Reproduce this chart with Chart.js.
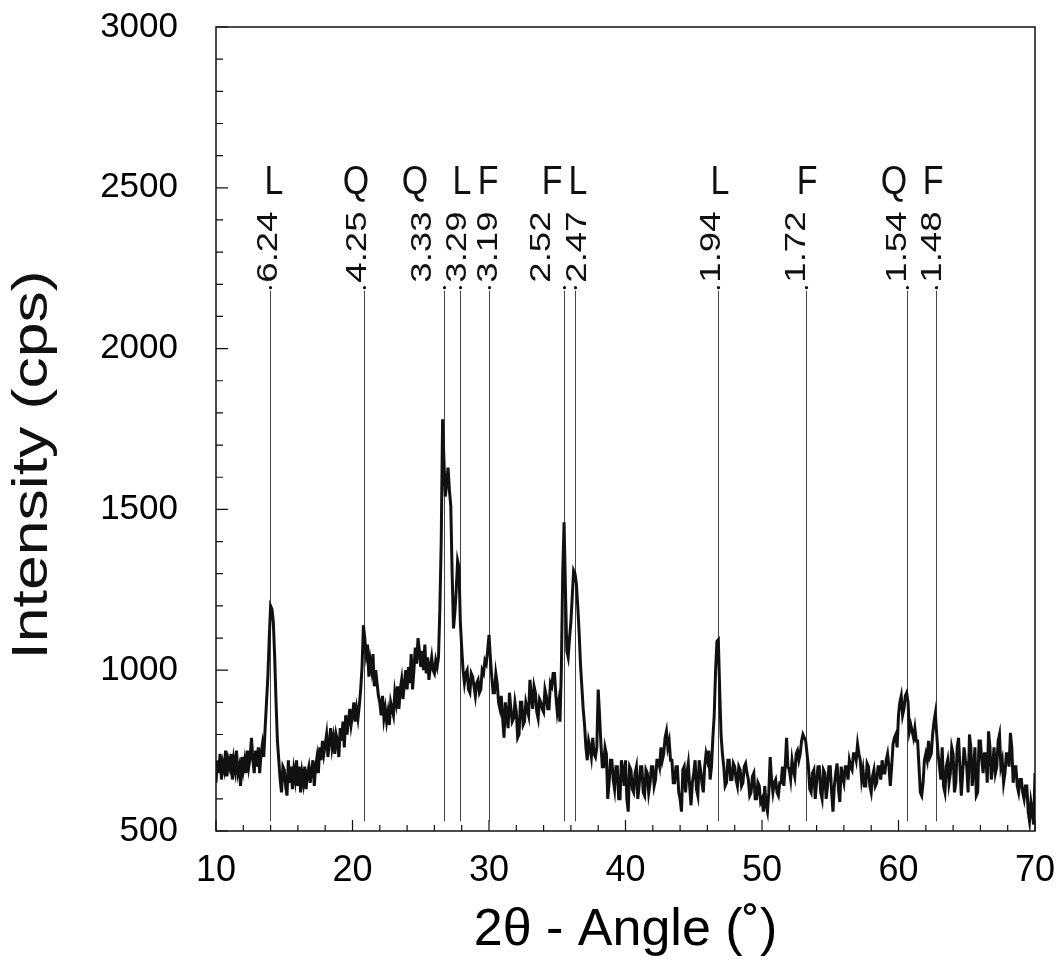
<!DOCTYPE html>
<html lang="en">
<head>
  <meta charset="UTF-8" />
  <title>XRD pattern</title>
  <script src="https://cdn.jsdelivr.net/npm/chart.js"></script>
  <style>
    body { margin: 0; background: #fff; }
    canvas { display: block; }
  </style>
</head>
<body>
  <canvas id="xrd" width="1057" height="980"></canvas>

  <script>
    // scan from 10 to 70 deg 2theta, 0.1 deg per reading (10 readings per row)
    const angleStart = 10;
    const angleStep = 0.1;
    const intensity = [
      650, 720, 680, 740, 660, 710, 690, 750, 670, 720,      // 10
      700, 740, 660, 720, 690, 750, 680, 700, 640, 730,      // 11
      690, 720, 680, 750, 700, 730, 790, 720, 680, 750,      // 12
      700, 760, 680, 740, 770, 730, 820, 900, 980, 1100,     // 13
      1200, 1190, 1150, 1040, 900, 780, 720, 660, 620, 700,  // 14
      690, 640, 610, 720, 650, 700, 630, 690, 660, 720,      // 15
      640, 700, 620, 680, 650, 700, 630, 680, 700, 650,      // 16
      690, 720, 640, 700, 730, 680, 760, 720, 780, 740,      // 17
      770, 800, 730, 780, 820, 760, 790, 740, 800, 780,      // 18
      730, 820, 780, 840, 760, 860, 800, 840, 880, 830,      // 19
      860, 900, 840, 880, 850, 890, 940, 1010, 1140, 1100,   // 20
      1050, 1080, 980, 1030, 1000, 1050, 950, 1000, 960, 920,// 21
      900, 860, 920, 850, 880, 840, 870, 830, 900, 880,      // 22
      860, 930, 900, 950, 880, 940, 970, 910, 960, 1000,     // 23
      940, 1010, 960, 1050, 940, 1000, 1070, 1020, 1100, 1060,// 24
      1010, 1060, 1000, 1080, 990, 1040, 970, 1010, 1040, 1000,// 25
      990, 1030, 1010, 1040, 1190, 1400, 1780, 1650, 1540, 1580,// 26
      1630, 1560, 1510, 1300, 1130, 1180, 1250, 1340, 1320, 1150,// 27
      1070, 1000, 960, 990, 1000, 940, 930, 990, 980, 950,   // 28
      920, 960, 970, 930, 940, 1000, 990, 1030, 1020, 1060,  // 29
      1110, 1040, 980, 930, 930, 990, 960, 900, 880, 920,    // 30
      850, 790, 900, 860, 820, 930, 880, 840, 850, 900,      // 31
      870, 790, 800, 900, 900, 830, 840, 900, 880, 860,      // 32
      970, 920, 880, 950, 930, 870, 850, 910, 900, 880,      // 33
      870, 940, 920, 880, 880, 960, 950, 990, 990, 920,      // 34
      870, 900, 840, 1000, 1300, 1460, 1250, 1060, 1040, 1100,// 35
      1150, 1230, 1310, 1300, 1270, 1200, 1120, 1020, 950, 880,// 36
      830, 760, 720, 780, 760, 730, 790, 740, 730, 760,      // 37
      940, 860, 770, 700, 700, 760, 740, 600, 650, 720,      // 38
      720, 660, 630, 700, 700, 600, 600, 720, 690, 640,      // 39
      720, 600, 560, 700, 690, 630, 620, 680, 700, 600,      // 40
      640, 700, 700, 620, 610, 690, 680, 620, 650, 700,      // 41
      700, 640, 660, 720, 720, 700, 760, 720, 740, 790,      // 42
      810, 760, 780, 720, 720, 650, 650, 700, 700, 620,      // 43
      600, 560, 690, 700, 620, 680, 710, 640, 580, 650,      // 44
      680, 720, 630, 610, 720, 690, 650, 620, 700, 740,      // 45
      720, 750, 660, 700, 790, 860, 1000, 1090, 1095, 940,   // 46
      800, 740, 700, 640, 650, 720, 720, 660, 660, 710,      // 47
      700, 660, 640, 700, 690, 640, 650, 700, 710, 680,      // 48
      660, 610, 620, 670, 680, 600, 600, 650, 640, 590,      // 49
      600, 560, 640, 580, 560, 620, 730, 660, 620, 650,      // 50
      660, 620, 610, 650, 650, 700, 640, 700, 790, 700,      // 51
      690, 660, 720, 690, 670, 740, 750, 720, 740, 780,      // 52
      800, 790, 780, 740, 700, 630, 620, 680, 690, 600,      // 53
      650, 700, 700, 620, 600, 690, 680, 600, 640, 700,      // 54
      700, 620, 560, 640, 680, 710, 630, 590, 700, 670,      // 55
      650, 700, 700, 660, 720, 700, 690, 740, 740, 720,      // 56
      770, 740, 720, 660, 690, 640, 640, 710, 700, 640,      // 57
      620, 670, 690, 640, 650, 700, 700, 660, 720, 680,      // 58
      680, 720, 740, 700, 640, 700, 770, 790, 800, 760,      // 59
      860, 900, 920, 860, 880, 920, 930, 900, 810, 830,      // 60
      810, 790, 820, 780, 780, 700, 620, 610, 650, 720,      // 61
      740, 720, 780, 730, 740, 800, 840, 866, 800, 740,      // 62
      700, 660, 760, 640, 620, 700, 720, 650, 680, 760,      // 63
      740, 620, 650, 760, 790, 700, 610, 680, 760, 720,      // 64
      700, 620, 800, 760, 640, 690, 760, 610, 620, 780,      // 65
      780, 720, 680, 740, 740, 650, 810, 760, 660, 700,      // 66
      760, 680, 700, 780, 800, 700, 720, 650, 680, 740,      // 67
      740, 700, 805, 760, 650, 700, 700, 640, 620, 660,      // 68
      660, 620, 600, 640, 640, 560, 530, 590, 560, 520,      // 69
      680                                                    // 70
    ];
    const twoTheta = intensity.map((_, i) => +(angleStart + i * angleStep).toFixed(1));

    // reflection markers: position, phase letter, d-spacing, where the texts sit (deg)
    const markAngle = [13.95, 20.86, 26.68, 27.85, 29.98, 35.49, 36.30, 46.78, 53.20, 60.60, 62.73];
    const markPhase = ['L', 'Q', 'Q', 'L', 'F', 'F', 'L', 'L', 'F', 'Q', 'F'];
    const markD = ['6.24', '4.25', '3.33', '3.29', '3.19', '2.52', '2.47', '1.94', '1.72', '1.54', '1.48'];
    const phaseAt = [14.25, 20.26, 24.58, 28.02, 29.93, 34.62, 36.52, 46.92, 53.30, 59.67, 62.53];
    const dAt = [13.88, 20.40, 25.16, 27.73, 30.0, 33.88, 36.52, 46.34, 52.56, 59.96, 62.53];
    const markLow = 530, markHigh = 2180;   // cps range of the marker lines
    const dTextBase = 2205, phaseTextBase = 2480;

    const xMin = 10, xMax = 70, xMajor = 10, xMinor = 2;
    const yMin = 500, yMax = 3000, yMajor = 500, yMinor = 100;

    const FONT = "'Liberation Sans', Arial, Helvetica, sans-serif";

    const decorations = {
      id: 'decorations',
      beforeDatasetsDraw(chart) {
        const { ctx, chartArea: a, scales: { x, y } } = chart;
        ctx.save();
        ctx.strokeStyle = '#111';

        // frame
        ctx.lineWidth = 1.5;
        ctx.strokeRect(a.left, a.top, a.right - a.left, a.bottom - a.top);

        // inward ticks
        ctx.lineWidth = 1.2;
        ctx.beginPath();
        for (let v = xMin; v <= xMax; v += xMinor) {
          const px = x.getPixelForValue(v);
          const len = v % xMajor === 0 ? 11 : 6;
          ctx.moveTo(px, a.bottom);
          ctx.lineTo(px, a.bottom - len);
        }
        for (let v = yMin; v <= yMax; v += yMinor) {
          const py = y.getPixelForValue(v);
          const len = v % yMajor === 0 ? 12 : 7;
          ctx.moveTo(a.left, py);
          ctx.lineTo(a.left + len, py);
        }
        ctx.stroke();

        // marker lines
        ctx.strokeStyle = '#444';
        ctx.lineWidth = 1;
        ctx.fillStyle = '#111';
        markAngle.forEach(v => {
          const px = Math.round(x.getPixelForValue(v)) + 0.5;
          ctx.beginPath();
          ctx.moveTo(px, y.getPixelForValue(markLow));
          ctx.lineTo(px, y.getPixelForValue(markHigh));
          ctx.stroke();
          ctx.beginPath();
          ctx.arc(px, y.getPixelForValue(markHigh) - 3, 1.6, 0, Math.PI * 2);
          ctx.fill();
        });

        // d-spacing texts, rotated
        ctx.font = '30px ' + FONT;
        ctx.textAlign = 'left';
        ctx.textBaseline = 'middle';
        markD.forEach((t, i) => {
          ctx.save();
          ctx.translate(x.getPixelForValue(dAt[i]), y.getPixelForValue(dTextBase));
          ctx.rotate(-Math.PI / 2);
          ctx.scale(1.22, 1);
          ctx.fillText(t, 0, 0);
          ctx.restore();
        });

        // phase letters
        ctx.font = '34px ' + FONT;
        ctx.textAlign = 'center';
        ctx.textBaseline = 'alphabetic';
        markPhase.forEach((t, i) => {
          ctx.save();
          ctx.translate(x.getPixelForValue(phaseAt[i]), y.getPixelForValue(phaseTextBase));
          ctx.scale(1, 1.22);
          ctx.fillText(t, 0, 0);
          ctx.restore();
        });

        // y axis title
        ctx.font = '50px ' + FONT;
        ctx.textAlign = 'center';
        ctx.textBaseline = 'middle';
        ctx.save();
        ctx.translate(33, (a.top + a.bottom) / 2 + 36);
        ctx.rotate(-Math.PI / 2);
        ctx.scale(1.25, 1);
        ctx.fillText('Intensity (cps)', 0, 0);
        ctx.restore();

        ctx.restore();
      }
    };

    const ctx = document.getElementById('xrd').getContext('2d');
    const chart = new Chart(ctx, {
      type: 'line',
      data: {
        datasets: [{
          data: twoTheta.map((t, i) => ({ x: t, y: intensity[i] })),
          borderColor: '#111',
          borderWidth: 3,
          pointRadius: 0,
          tension: 0,
          fill: false
        }]
      },
      options: {
        responsive: false,
        animation: false,
        layout: { padding: { top: 27, right: 22, left: 0, bottom: 0 } },
        plugins: { legend: { display: false }, tooltip: { enabled: false } },
        scales: {
          x: {
            type: 'linear',
            min: xMin,
            max: xMax,
            grid: { display: false },
            border: { display: false },
            ticks: {
              stepSize: xMajor,
              color: '#000',
              padding: 10,
              maxRotation: 0,
              font: { family: FONT, size: 36 }
            },
            title: {
              display: true,
              text: '2θ - Angle (˚)',
              color: '#000',
              font: { family: FONT, size: 52 },
              padding: { top: 0, bottom: 18 }
            },
            afterFit: s => { s.height = 149; s.paddingLeft = 0; s.paddingRight = 0; }
          },
          y: {
            min: yMin,
            max: yMax,
            grid: { display: false },
            border: { display: false },
            ticks: {
              stepSize: yMajor,
              color: '#000',
              padding: 30,
              font: { family: FONT, size: 35 },
              callback: v => String(v)
            },
            afterFit: s => { s.width = 216; s.paddingTop = 0; s.paddingBottom = 0; }
          }
        }
      },
      plugins: [decorations]
    });
  </script>
</body>
</html>
